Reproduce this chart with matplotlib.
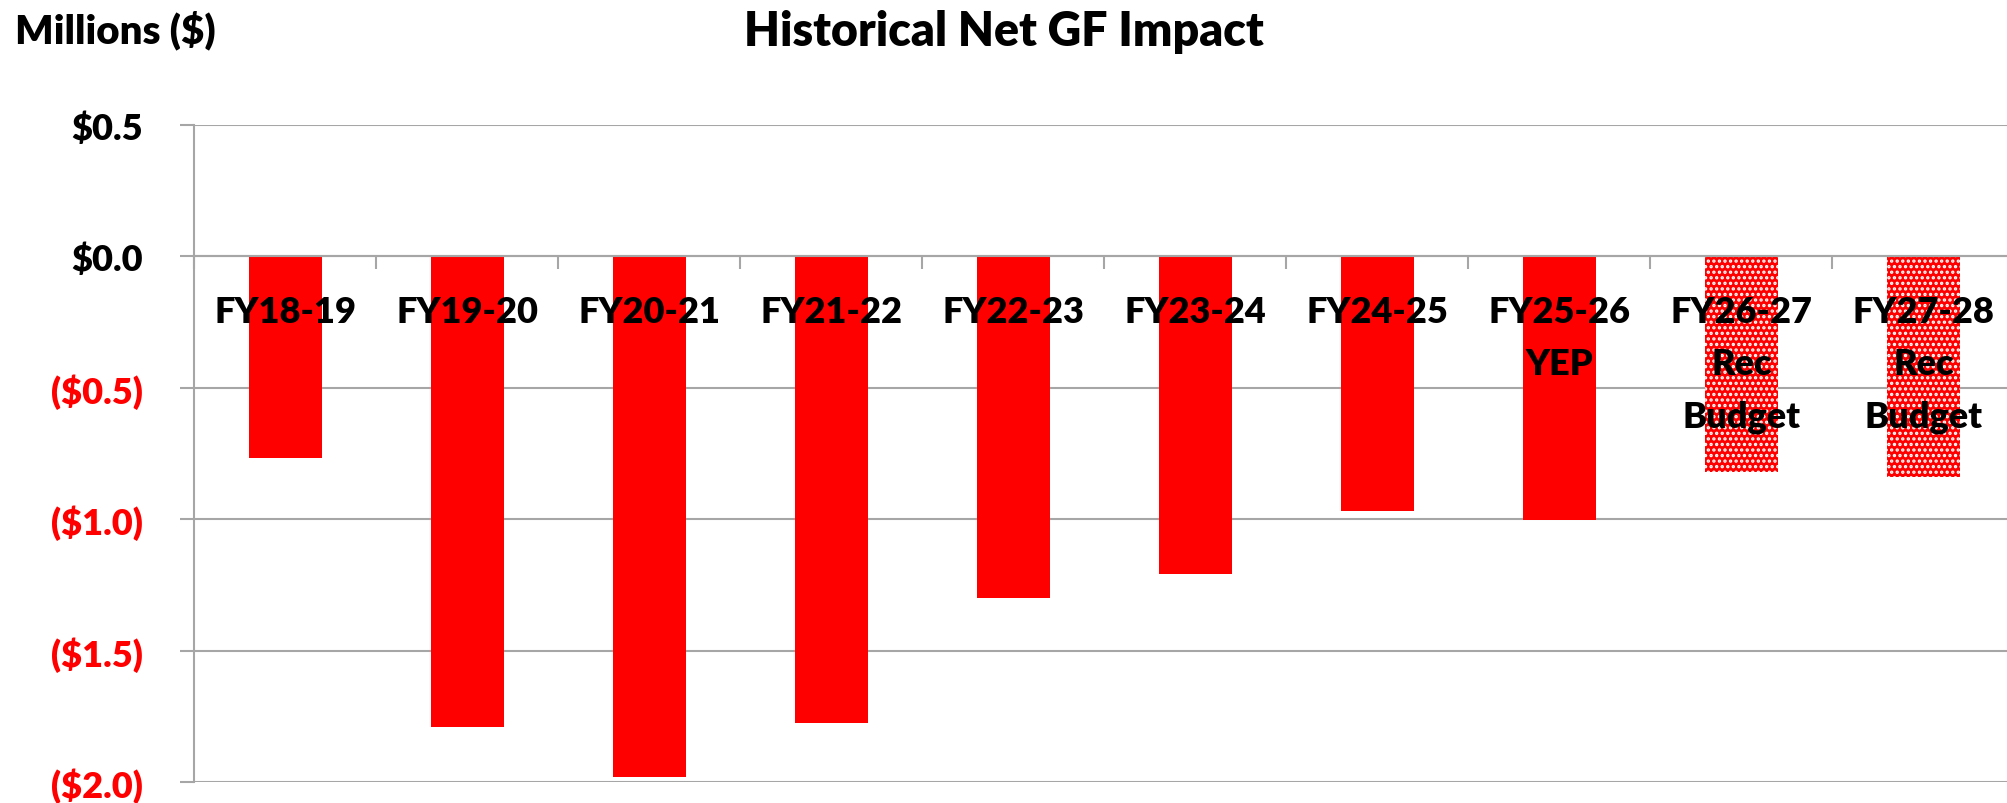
import matplotlib
matplotlib.use("Agg")
import matplotlib.pyplot as plt
import numpy as np

# ---- data ----
categories = ["FY18-19", "FY19-20", "FY20-21", "FY21-22", "FY22-23",
              "FY23-24", "FY24-25", "FY25-26\nYEP", "FY26-27\nRec\nBudget",
              "FY27-28\nRec\nBudget"]
values = [-0.767, -1.790, -1.980, -1.773, -1.299, -1.208, -0.969, -1.003, -0.819, -0.838]
projected = [False, False, False, False, False, False, False, False, True, True]
yticks = [0.5, 0.0, -0.5, -1.0, -1.5, -2.0]
ytick_labels = ["$0.5", "$0.0", "($0.5)", "($1.0)", "($1.5)", "($2.0)"]

title = "Historical Net GF Impact"
unit_label = "Millions ($)"

# ---- style ----
FONT = ["Lato", "DejaVu Sans"]
WEIGHT = "heavy"
plt.rcParams['font.family'] = FONT
plt.rcParams['hatch.linewidth'] = 1.6
RED = "#FF0000"
GRID = "#A6A6A6"
DPI = 100
W, H = 2008, 804

fig = plt.figure(figsize=(W / DPI, H / DPI), dpi=DPI)
ax = fig.add_axes([194.5 / W, (H - 783.3) / H, 1820 / W, (783.3 - 126) / H])

x = np.arange(len(categories))
for xi, v, p in zip(x, values, projected):
    if p:
        ax.bar(xi, v, width=0.4, color=RED, edgecolor="white", linewidth=0,
               hatch="...", zorder=1)
    else:
        ax.bar(xi, v, width=0.4, color=RED, linewidth=0, zorder=1)

ax.set_xlim(-0.5, len(categories) - 0.5)
ax.set_ylim(-2.0, 0.5)

# gridlines below bars
for yt in yticks:
    ax.axhline(yt, color=GRID, linewidth=1.5, zorder=0.5)

for s in ["top", "right"]:
    ax.spines[s].set_visible(False)
ax.spines["bottom"].set_position(("data", 0))
ax.spines["bottom"].set_color(GRID)
ax.spines["bottom"].set_linewidth(1.5)
ax.spines["left"].set_color(GRID)
ax.spines["left"].set_linewidth(1.5)

ax.set_yticks(yticks)
ax.set_yticklabels(ytick_labels)
ax.tick_params(axis="y", direction="out", length=10, width=1.5, color=GRID,
               pad=27, labelsize=26)
for lab, yt in zip(ax.get_yticklabels(), yticks):
    lab.set_fontweight(WEIGHT)
    lab.set_color("black" if yt >= 0 else RED)

ax.set_xticks(x)
ax.set_xticklabels(categories)
ax.set_xticks(np.arange(-0.5, len(categories) - 0.4, 1.0), minor=True)
ax.tick_params(axis="x", which="major", length=0, pad=28, labelsize=26)
ax.tick_params(axis="x", which="minor", direction="out", length=9.5, width=1.5,
               color=GRID)
for lab in ax.get_xticklabels():
    lab.set_fontweight(WEIGHT)
    lab.set_linespacing(1.7)
    lab.set_zorder(5)

fig.text(0.5, (H - 32) / H, title, ha="center", va="center",
         fontsize=33.5, fontweight=WEIGHT)
fig.text(15 / W, (H - 31) / H, unit_label, ha="left", va="center",
         fontsize=29, fontweight=WEIGHT)

fig.savefig("out.png", dpi=DPI)
